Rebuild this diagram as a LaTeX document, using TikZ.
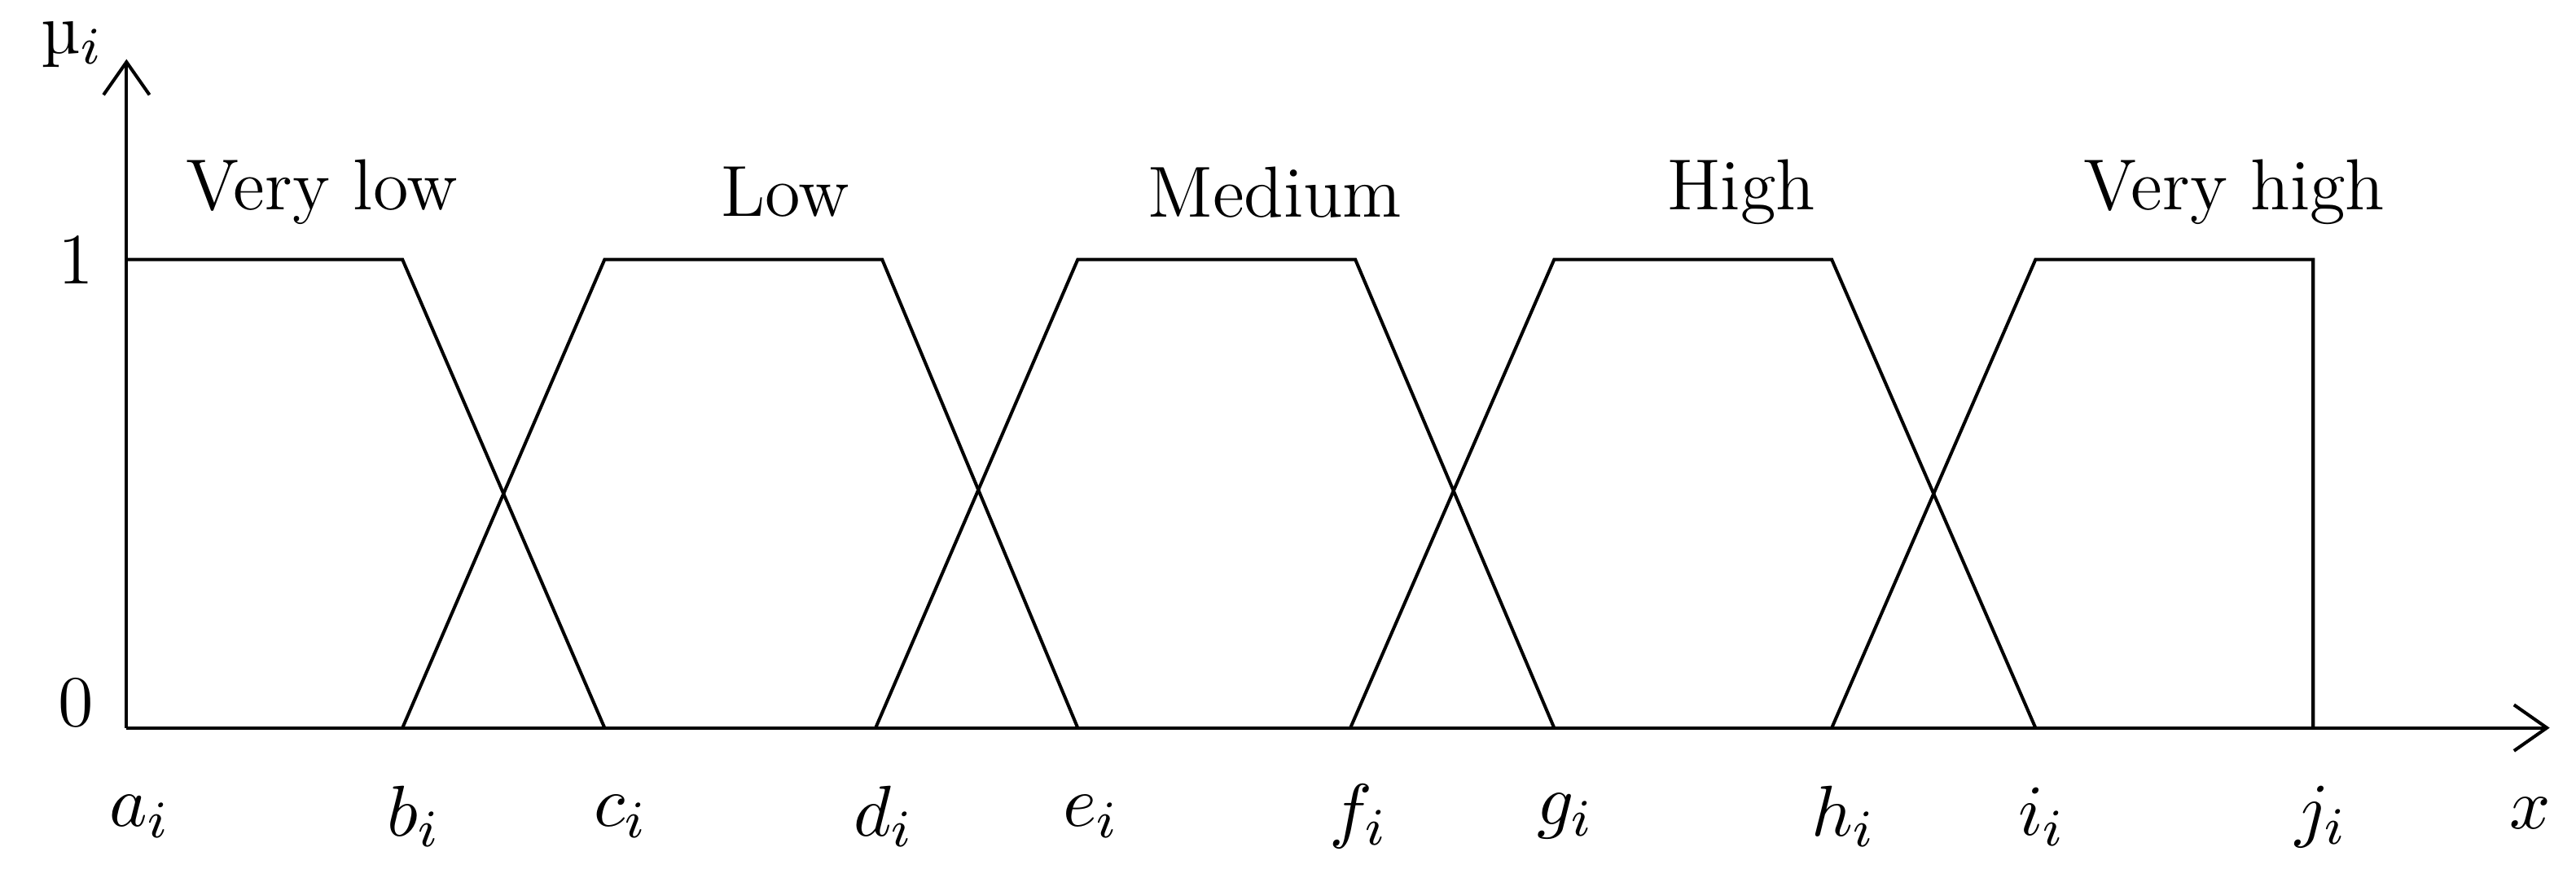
\documentclass[tikz,border=0pt]{standalone}
\usepackage{fontspec}
\usetikzlibrary{arrows.meta}
\begin{document}
\begin{tikzpicture}[x=0.25pt,y=-0.25pt,line width=0.5pt,
  lbl/.style={font=\fontsize{11}{13}\selectfont},
  mf/.style={line join=miter}]
\useasboundingbox (0,0) rectangle (1568,534);
\coordinate (O) at (77,443);
\coordinate (Ytop) at (77,36);
\coordinate (Xend) at (1552,443);
\draw[-{Straight Barb[length=5pt,width=7pt]}] (O) -- (Ytop);
\draw[-{Straight Barb[length=5pt,width=7pt]}] (O) -- (Xend);
\draw[mf] (77,158) -- (245,158) -- (368,443);
\draw[mf] (245,443) -- (368,158) -- (537,158) -- (656,443);
\draw[mf] (533,443) -- (656,158) -- (825,158) -- (946,443);
\draw[mf] (822,443) -- (946,158) -- (1115,158) -- (1239,443);
\draw[mf] (1115,443) -- (1239,158) -- (1408,158) -- (1408,443);
\node[lbl,anchor=north,inner sep=0pt] (mu) at (44,12) {µ$_i$};
\node[lbl] (one) at (46,158) {1};
\node[lbl] (zero) at (46,428) {0};
\node[lbl] (vl) at (196,117) {Very low};
\node[lbl] (lo) at (478,117) {Low};
\node[lbl] (me) at (776,117) {Medium};
\node[lbl] (hi) at (1060,117) {High};
\node[lbl] (vh) at (1360,117) {Very high};
\foreach \n/\p/\t in {a/85/a_i,b/252/b_i,c/378/c_i,d/538/d_i,e/664/e_i,f/827/f_i,g/953/g_i,h/1122/h_i,i/1243/i_i,j/1413/j_i}
  \node[lbl] (\n) at (\p,497) {$\t$};
\node[lbl] (x) at (1540,495) {$x$};
\end{tikzpicture}
\end{document}
